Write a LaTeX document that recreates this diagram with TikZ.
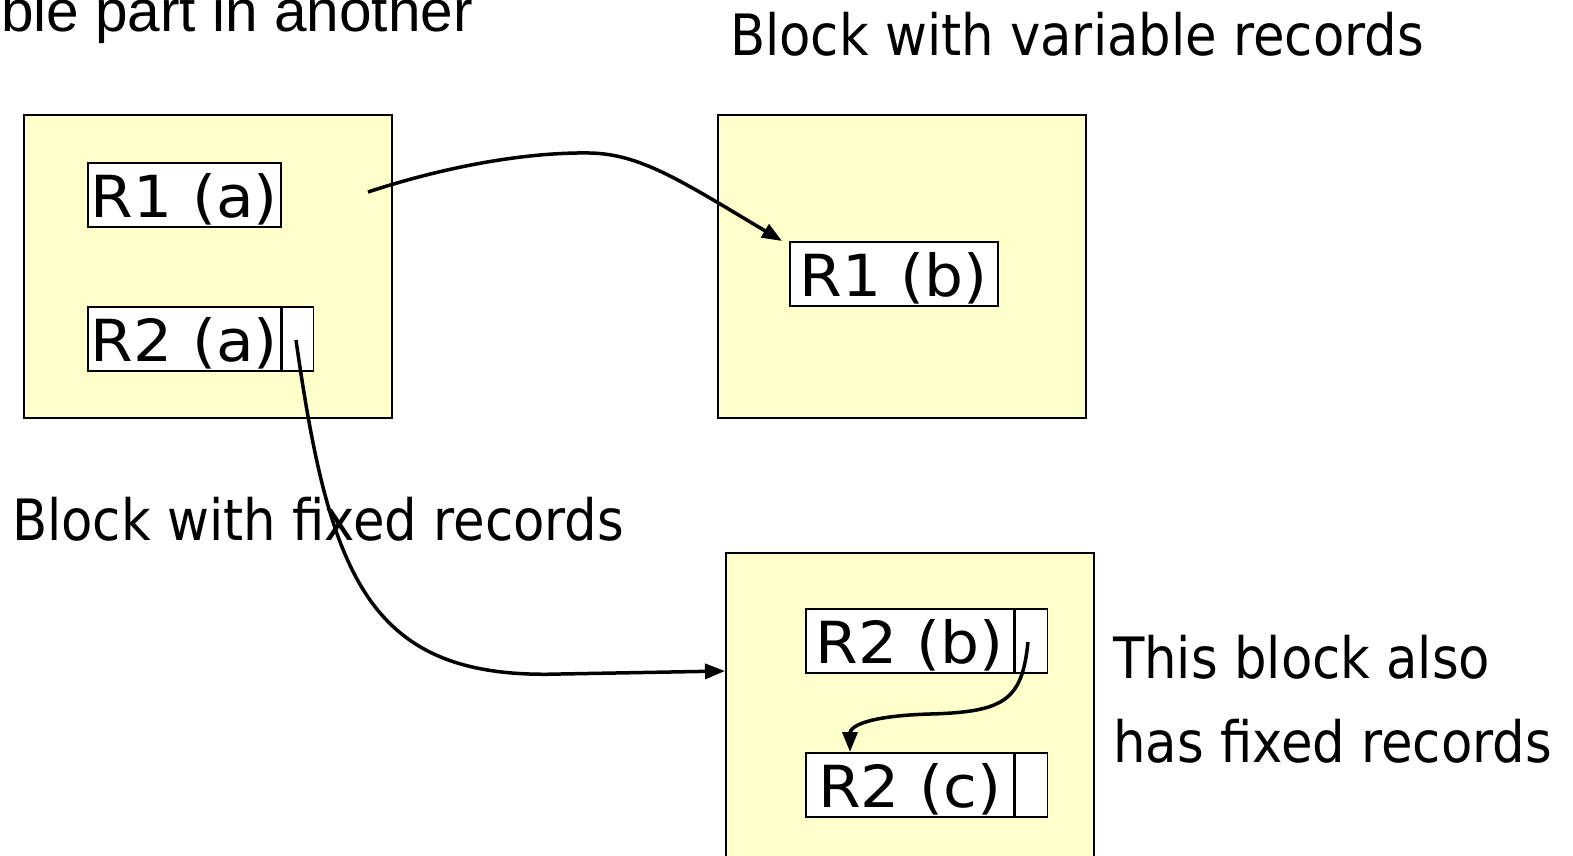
\documentclass[tikz,border=0pt]{standalone}
\usepackage{fontspec}
\setmainfont{DejaVu Sans}
\newfontfamily\recfont[FakeStretch=1.06]{DejaVu Sans}
\newfontfamily\titlefont{DejaVu Sans Condensed}
\newfontfamily\arialfont{Liberation Sans}
\usetikzlibrary{arrows.meta}
\definecolor{blockyellow}{HTML}{FFFFCC}

\begin{document}
\begin{tikzpicture}[x=1pt,y=-1pt,
  block/.style={draw=black, line width=2pt, fill=blockyellow, inner sep=0pt,
    anchor=north west, minimum width=368pt, minimum height=303pt},
  record/.style={draw=black, line width=1.5pt, fill=white, inner sep=0pt,
    anchor=north west, minimum height=64pt,
    font=\recfont\fontsize{58}{60}\selectfont, text height=55pt, text depth=9pt},
  ptrcell/.style={draw=black, line width=1.5pt, fill=white, inner sep=0pt,
    anchor=north west, minimum width=31pt, minimum height=64pt},
  title/.style={inner sep=0pt, anchor=base west, font=\titlefont\fontsize{57}{84}\selectfont},
  link/.style={line width=3.5pt, -{Triangle[length=20pt,width=15pt]}},
]
\useasboundingbox (0,0) rectangle (1573,855);
\clip (0,0) rectangle (1573,855);

% captions
\node[inner sep=0pt, anchor=base west, font=\arialfont\fontsize{58.5}{60}\selectfont]
  (capvar) at (1,31) {ble part in another};
\node[title] (capB) at (730,55) {Block with variable records};
\node[title] (capA) at (12,540) {Block with fixed records};
\node[title] (capC1) at (1113,678) {This block also};
\node[title] (capC2) at (1113,762) {has fixed records};

% blocks
\node[block] (blockA) at (23,114) {};
\node[block] (blockB) at (717,114) {};
\node[block, minimum height=400pt] (blockC) at (725,552) {};

% records in block A
\node[record, minimum width=193pt] (r1a) at (87,162) {R1 (a)};
\node[record, minimum width=193pt] (r2a) at (87,306) {R2 (a)};
\node[ptrcell] (r2aptr) at (r2a.north east) {};

% record in block B
\node[record, minimum width=208pt] (r1b) at (789,241) {R1 (b)};

% records in block C
\node[record, minimum width=208pt] (r2b) at (805,608) {R2 (b)};
\node[ptrcell, minimum width=32pt] (r2bptr) at (r2b.north east) {};
\node[record, minimum width=208pt] (r2c) at (805,752) {R2 (c)};
\node[ptrcell, minimum width=32pt] (r2cptr) at (r2c.north east) {};

% link ends
\coordinate (s1) at (368,192);
\coordinate (t1) at (782,241);
\coordinate (s2) at (296,340);
\coordinate (t2) at (725,671);
\coordinate (s3) at (1028,642);
\coordinate (t3) at (850,752);

% links
\draw[link] (s1) .. controls (450,165) and (530,152) .. (590,153)
  .. controls (640,154) and (680,180) .. (t1);
\draw[link] (s2) .. controls (330,580) and (370,680) .. (560,674) -- (t2);
\draw[link] (s3) .. controls (1022,700) and (1005,712) .. (930,714)
  .. controls (862,716) and (850,728) .. (t3);
\end{tikzpicture}
\end{document}
